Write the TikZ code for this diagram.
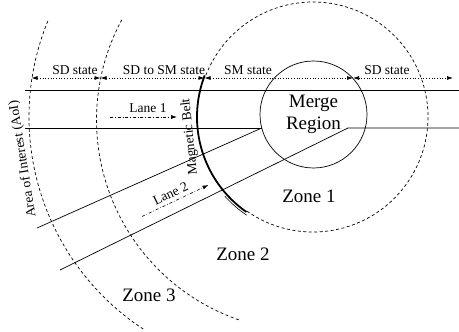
\documentclass[tikz,border=0pt]{standalone}
\usepackage{fontspec}
\setmainfont{Liberation Serif}
\usetikzlibrary{arrows.meta}
\begin{document}
\begin{tikzpicture}[x=1pt,y=-1pt,
  lanefont/.style={font=\fontsize{13.5}{16}\selectfont},
  zonefont/.style={font=\fontsize{19}{22}\selectfont},
  laneline/.style={line width=0.7pt},
  zonearc/.style={line width=0.7pt, dash pattern=on 3pt off 2.5pt},
  statearrow/.style={line width=0.7pt, dotted, {Latex[length=6pt,width=4pt]}-{Latex[length=6pt,width=4pt]}},
  dirarrow/.style={line width=0.6pt, dash dot, -{Latex[length=6pt,width=4pt]}},
  beltline/.style={line width=1.8pt}
]
\useasboundingbox (0,0) rectangle (459,332);

% merge region
\node[draw, circle, minimum size=107pt, inner sep=0pt, align=center, zonefont, line width=0.7pt] (merge) at (313.5,114.5) {Merge\\Region};

% zone boundaries
\draw[zonearc] (313,117) ++(125:115) arc[start angle=125, end angle=-159, radius=115];
\draw[beltline] (313,117) ++(-159:116) arc[start angle=-159, end angle=-235, radius=116];
\draw[line width=0.6pt] (313,117) ++(-222:118.5) arc[start angle=-222, end angle=-236, radius=118.5];
\draw[zonearc] (308,120) ++(-151.7:211.5) arc[start angle=-151.7, end angle=-251, radius=211.5];
\draw[zonearc] (283,117) ++(-157.8:254) arc[start angle=-157.8, end angle=-236.6, radius=254];

% lanes
\coordinate (l1tl) at (25,90);
\coordinate (l1tr) at (459,90);
\coordinate (l1bl) at (25,128);
\coordinate (mwest) at (261.8,128);
\coordinate (l2ul) at (37,228);
\coordinate (l2ll) at (60,270);
\coordinate (l2le) at (348,128);
\coordinate (l2lr) at (459,128);
\draw[laneline] (l1tl) -- (l1tr);
\draw[laneline] (l1bl) -- (mwest);
\draw[laneline] (l2ul) -- (mwest);
\draw[laneline] (l2ll) -- (l2le) -- (l2lr);

% state arrows
\coordinate (s0) at (31.5,78);
\coordinate (s1) at (100.5,78);
\coordinate (s2) at (204.5,78);
\coordinate (s3) at (353,78);
\coordinate (s4) at (453,78);
\draw[statearrow] (s0) -- (s1);
\draw[statearrow] (s1) -- (s2);
\draw[statearrow] (s2) -- (s3);
\draw[statearrow] (s3) -- (s4);

\node[lanefont, anchor=base] (sd1) at (75,74.5) {SD state};
\node[lanefont, anchor=base] (sdsm) at (164,74.5) {SD to SM state};
\node[lanefont, anchor=base] (sm) at (248,74.5) {SM state};
\node[lanefont, anchor=base] (sd2) at (387,74.5) {SD state};

% lane direction arrows
\coordinate (d1a) at (110,117);
\coordinate (d1b) at (177,117);
\coordinate (d2a) at (142,216.5);
\coordinate (d2b) at (208.5,185);
\draw[dirarrow] (d1a) -- (d1b);
\draw[dirarrow] (d2a) -- (d2b);
\node[lanefont, anchor=base] (lane1) at (148,112.5) {Lane 1};
\node[lanefont, rotate=26, inner sep=1pt] (lane2) at (170.5,193.5) {Lane 2};

% rotated labels
\node[lanefont, rotate=96, inner sep=1pt] (beltlabel) at (190,137) {Magnetic Belt};
\node[lanefont, rotate=99, inner sep=1pt] (aoi) at (23,159) {Area of Interest (AoI)};

% zones
\node[zonefont, anchor=base] (z1) at (309,202.5) {Zone 1};
\node[zonefont, anchor=base] (z2) at (243,260) {Zone 2};
\node[zonefont, anchor=base] (z3) at (149,301.5) {Zone 3};
\end{tikzpicture}
\end{document}
